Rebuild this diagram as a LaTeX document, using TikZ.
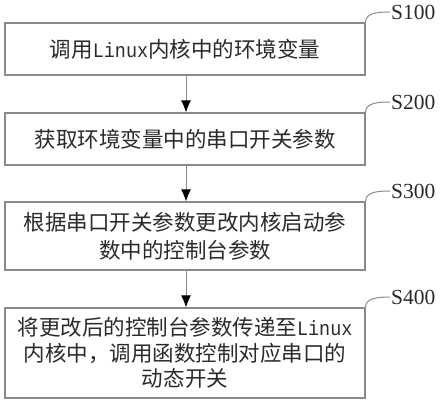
\documentclass[tikz,border=0pt]{standalone}
\usepackage{fontspec}
\usepackage{graphicx}
\setmainfont{Liberation Serif}
\newfontfamily\cjk{Noto Sans CJK SC}
\newfontfamily\lat{Liberation Mono}
\usetikzlibrary{arrows.meta}
\definecolor{boxgray}{HTML}{8A8A8A}
\definecolor{txt}{HTML}{2A2A2A}
\newcommand{\lnx}{\scalebox{0.9}[1]{\lat\fontsize{20.5}{27}\selectfont Linux}}
\tikzset{
  stepbox/.style={draw=boxgray, line width=1.1pt, minimum width=360pt, inner sep=0pt,
    align=center, text=txt, font=\cjk\fontsize{21.5}{28}\selectfont},
  flow/.style={draw=boxgray, line width=1pt, -{Latex[length=12pt,width=10pt,color=black]}},
  steplabel/.style={anchor=west, inner sep=1pt, text=txt, font=\fontsize{21.5}{24}\selectfont},
  leader/.style={draw=boxgray, line width=1pt}
}
\begin{document}
\begin{tikzpicture}[x=1pt,y=-1pt]
\useasboundingbox (0,0) rectangle (444,404);
\node[stepbox, minimum height=52pt] (b1) at (185,49) {调用\lnx 内核中的环境变量};
\node[stepbox, minimum height=52pt] (b2) at (185,139) {获取环境变量中的串口开关参数};
\node[stepbox, minimum height=68pt] (b3) at (185,236) {根据串口开关参数更改内核启动参\\数中的控制台参数};
\node[stepbox, minimum height=90pt, font=\cjk\fontsize{21.5}{25.5}\selectfont] (b4) at (185,353) {将更改后的控制台参数传递至\lnx\\内核中，调用函数控制对应串口的\\动态开关};
\draw[flow] ([xshift=1pt]b1.south) -- ([xshift=1pt]b2.north);
\draw[flow] ([xshift=1pt]b2.south) -- ([xshift=1pt]b3.north);
\draw[flow] ([xshift=1pt]b3.south) -- ([xshift=1pt]b4.north);
\node[steplabel] (l1) at (390,12) {S100};
\node[steplabel] (l2) at (390,102) {S200};
\node[steplabel] (l3) at (390,191) {S300};
\node[steplabel] (l4) at (390,297) {S400};
\draw[leader] (b1.north east) .. controls +(0,-9) and +(-14,0) .. (l1.west);
\draw[leader] (b2.north east) .. controls +(0,-9) and +(-14,0) .. (l2.west);
\draw[leader] (b3.north east) .. controls +(0,-9) and +(-14,0) .. (l3.west);
\draw[leader] (b4.north east) .. controls +(0,-9) and +(-14,0) .. (l4.west);
\end{tikzpicture}
\end{document}
